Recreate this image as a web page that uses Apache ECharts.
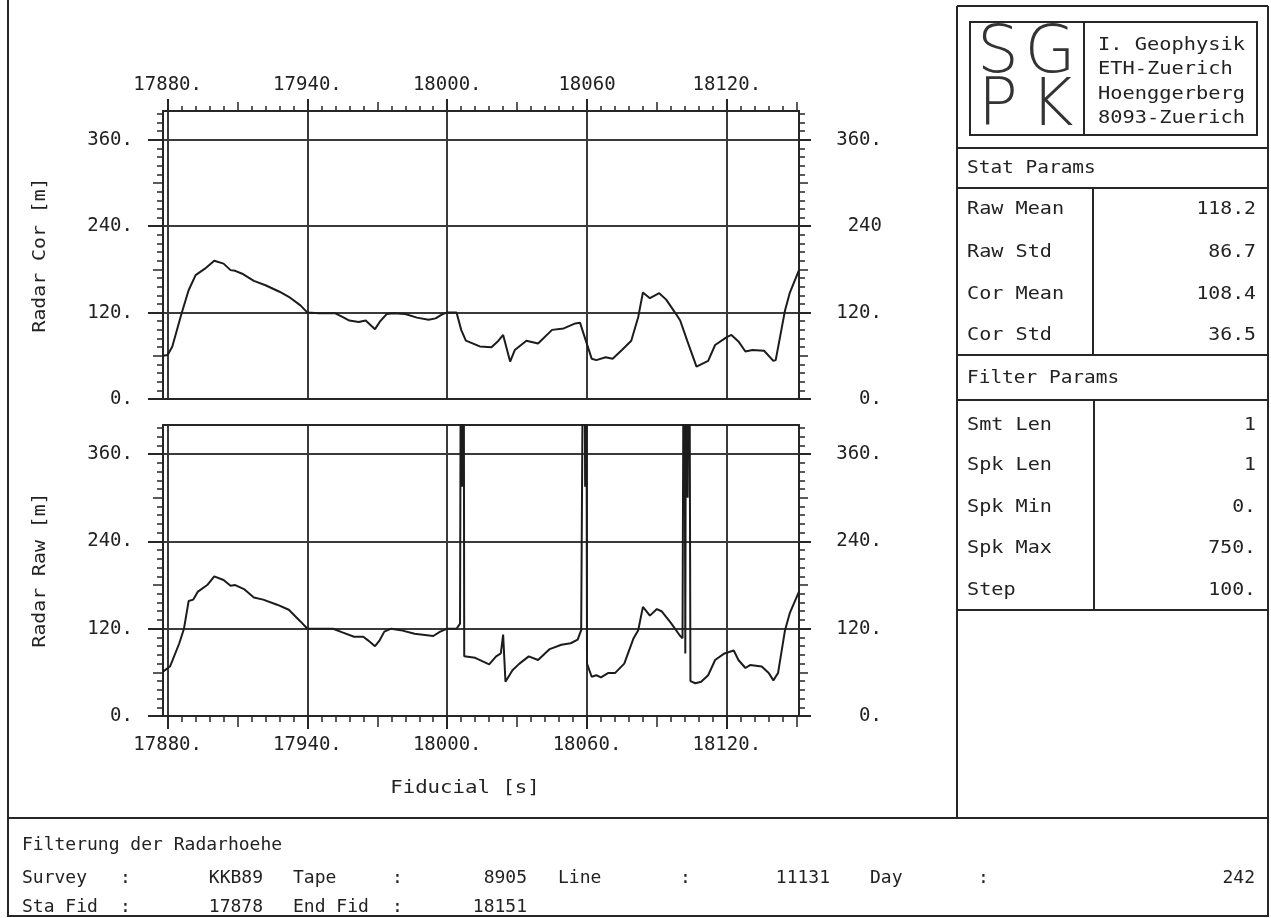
<!DOCTYPE html>
<html><head><meta charset="utf-8">
<script src="https://cdn.jsdelivr.net/npm/echarts@6/dist/echarts.min.js"></script>
<style>html,body{margin:0;padding:0;background:#fff}#c{width:1271px;height:918px}</style>
</head><body><div id="c"></div>
<script>
// ---------------- data ----------------
const fidCor = [17878,17880,17882,17886,17889,17892,17896,17900,17904,17907,17909,17912,17917,17922,17928,17932,17937,17940,17945,17952,17955,17958,17962,17965,17969,17971,17974,17977,17982,17987,17992,17995,17998,18000,18004,18006,18008,18014,18019,18022,18024,18027,18029,18034,18039,18045,18050,18055,18057,18059,18062,18064,18068,18071,18075,18079,18082,18084,18087,18091,18094,18098,18100,18103,18107,18112,18115,18120,18122,18125,18128,18131,18136,18140,18141,18145,18147,18151];
const radarCor = [60,61,73,119,151,172,181,192,188,179,178,174,164,158,149,142,130,120,119,119,114,109,107,109,97,107,118,119,118,113,110,112,118,120,120,96,81,73,72,81,89,52,68,81,77,96,98,105,106,86,56,54,58,56,68,81,114,148,140,147,138,119,109,81,45,53,75,86,89,80,66,68,67,53,54,123,147,179];
const fidRaw = [17878,17881,17885,17887,17889,17891,17893,17897,17900,17904,17907,17909,17913,17917,17921,17927,17932,17937,17940,17951,17955,17960,17964,17966,17969,17971,17973,17976,17980,17986,17994,17997,18000,18004,18005.5,18006,18006.5,18007,18007.3,18008,18012,18018,18021,18023,18024,18025,18028,18031,18035,18039,18044,18049,18053,18056,18057.5,18058.7,18059.2,18059.6,18060,18062,18064,18066,18069,18072,18076,18080,18082,18084,18087,18090,18092,18096,18100,18101,18101.7,18102.2,18102.6,18103.2,18103.8,18104.4,18106.5,18109,18112,18115,18119,18123,18125,18128,18130,18135,18138,18140,18142,18145,18147,18151];
const radarRaw = [61,68,100,120,158,160,171,180,192,187,179,180,174,163,160,153,146,130,120,120,115,109,109,104,96,104,116,120,118,113,110,116,120,120,127,750,315,750,82,82,80,71,82,86,112,47,63,72,82,77,92,98,100,105,118,750,315,750,72,54,56,53,59,59,72,107,118,150,138,147,144,128,110,107,750,86,750,300,750,48,45,47,56,77,86,90,77,66,70,68,59,49,59,118,141,171];

const xMajorTicks = [17880,17940,18000,18060,18120];
const xTopLabels = ['17880.','17940.','18000.','18060','18120.'];
const xBottomLabels = ['17880.','17940.','18000.','18060.','18120.'];
const yMajorTicks = [0,120,240,360];
const yLeftTopLabels = ['0.','120.','240.','360.'];
const yRightTopLabels = ['0.','120.','240','360.'];
const yLeftBotLabels = ['0.','120.','240.','360.'];
const yRightBotLabels = ['0.','120.','240.','360.'];

const statTitle = 'Stat Params';
const statLabels = ['Raw Mean','Raw Std','Cor Mean','Cor Std'];
const statValues = ['118.2','86.7','108.4','36.5'];
const filterTitle = 'Filter Params';
const filterLabels = ['Smt Len','Spk Len','Spk Min','Spk Max','Step'];
const filterValues = ['1','1','0.','750.','100.'];
const instituteLines = ['I. Geophysik','ETH-Zuerich','Hoenggerberg','8093-Zuerich'];
const logoLetters = ['S','G','P','K'];
const infoTitle = 'Filterung der Radarhoehe';
const infoRow1 = ['Survey',':','KKB89','Tape',':','8905','Line',':','11131','Day',':','242'];
const infoRow2 = ['Sta Fid',':','17878','End Fid',':','18151'];

// ---------------- layout / style ----------------
const X_MIN = 17878, X_MAX = 18151, Y_MIN = 0, Y_MAX = 400;
const FONT = 'DejaVu Sans Mono';
const INK = '#262626';
function range(a,b,s,skip){const r=[];for(let v=a;v<=b;v+=s){if(!skip||v%skip!==0)r.push(v);}return r;}
const xMinor = range(17880,18150,6,30);
const xMid = range(17910,18150,60);
const yMinor = range(0,396,12,60);
const yMid = [60,180,300];

function lbl(ticks, labels){return v=>{const i=ticks.indexOf(v);return i>=0?labels[i]:'';};}
function frameAxis(kind,grid,pos){
  return {gridIndex:grid,type:'value',position:pos,min:kind==='x'?X_MIN:Y_MIN,max:kind==='x'?X_MAX:Y_MAX,
    axisLine:{show:true,onZero:false,lineStyle:{color:INK,width:2}},axisTick:{show:false},axisLabel:{show:false},splitLine:{show:false},silent:true};
}
function tickAxis(kind,grid,pos,vals,len){
  return {gridIndex:grid,type:'value',position:pos,min:kind==='x'?X_MIN:Y_MIN,max:kind==='x'?X_MAX:Y_MAX,
    axisLine:{show:false,onZero:false},axisTick:{show:true,length:len,customValues:vals,lineStyle:{color:INK,width:1.5}},
    axisLabel:{show:false},splitLine:{show:false},silent:true};
}
function mainAxis(kind,grid,pos,labels,tickLen,margin,split,align){
  const ticks = kind==='x'?xMajorTicks:yMajorTicks;
  const a = {gridIndex:grid,type:'value',position:pos,min:kind==='x'?X_MIN:Y_MIN,max:kind==='x'?X_MAX:Y_MAX,
    axisLine:{show:true,onZero:false,lineStyle:{color:INK,width:2}},
    axisTick:{show:true,length:tickLen,customValues:ticks,lineStyle:{color:INK,width:2}},
    axisLabel:{show:true,customValues:ticks,margin:margin,formatter:lbl(ticks,labels),fontFamily:FONT,fontSize:19,color:'#222'},
    splitLine:{show:split,lineStyle:{color:'#3a3a3a',width:2}},silent:true};
  if(align) a.axisLabel.align = align;
  return a;
}

const grids = [
  {left:163,top:111,width:636,height:288},
  {left:163,top:425,width:636,height:291}
];
const xAxes = [
  mainAxis('x',0,'top',xTopLabels,12,16,true),     // 0
  tickAxis('x',0,'top',xMinor,5),
  tickAxis('x',0,'top',xMid,9),
  frameAxis('x',0,'bottom'),
  mainAxis('x',1,'bottom',xBottomLabels,13,20,true), // 4
  tickAxis('x',1,'bottom',xMinor,6),
  tickAxis('x',1,'bottom',xMid,11),
  frameAxis('x',1,'top')
];
const yAxes = [
  mainAxis('y',0,'left',yLeftTopLabels,15,30,true),  // 0
  tickAxis('y',0,'left',yMinor,6),
  tickAxis('y',0,'left',yMid,10),
  mainAxis('y',0,'right',yRightTopLabels,12,83,false,'right'),
  tickAxis('y',0,'right',yMinor,6),
  tickAxis('y',0,'right',yMid,9),
  mainAxis('y',1,'left',yLeftBotLabels,15,30,true),  // 6
  tickAxis('y',1,'left',yMinor,6),
  tickAxis('y',1,'left',yMid,10),
  mainAxis('y',1,'right',yRightBotLabels,12,83,false,'right'),
  tickAxis('y',1,'right',yMinor,6),
  tickAxis('y',1,'right',yMid,9)
];

const series = [
  {type:'line',name:'Radar Cor',xAxisIndex:0,yAxisIndex:0,data:fidCor.map((x,i)=>[x,radarCor[i]]),
   showSymbol:false,symbol:'none',clip:true,lineStyle:{color:'#1c1c1c',width:2},animation:false,silent:true},
  {type:'line',name:'Radar Raw',xAxisIndex:4,yAxisIndex:6,data:fidRaw.map((x,i)=>[x,radarRaw[i]]),
   showSymbol:false,symbol:'none',clip:true,lineStyle:{color:'#1c1c1c',width:2},animation:false,silent:true}
];

// ---------------- graphic (frames and side/bottom panels) ----------------
const G = [];
function L(x1,y1,x2,y2,w){G.push({type:'line',silent:true,shape:{x1,y1,x2,y2},style:{stroke:INK,lineWidth:w||2}});}
function T(text,x,y,opt){opt=opt||{};G.push({type:'text',silent:true,x:x,y:y,rotation:opt.rot||0,scaleX:opt.sx||1,
  style:{text:text,fontFamily:opt.font||FONT,fontSize:opt.size||18,fontWeight:opt.weight||'normal',fill:opt.color||'#222',
  textAlign:opt.align||'left',textVerticalAlign:'middle'}});}

// outer frame
L(8,0,8,917);
L(957,6,957,818);
L(957,6,1268,6);
L(1268,6,1268,917);
L(8,818,1268,818);
L(8,916,1268,916);
// logo
G.push({type:'rect',silent:true,shape:{x:970,y:22,width:287,height:113},style:{fill:'none',stroke:INK,lineWidth:2}});
L(1084,22,1084,135);
const logoPos = [[998,55],[1050,55],[998,108],[1052,108]];
logoLetters.forEach((s,i)=>T(s,logoPos[i][0],logoPos[i][1],{font:'DejaVu Sans',size:66,weight:200,align:'center',color:'#333'}));
instituteLines.forEach((s,i)=>T(s,1098,45+i*24.5,{size:18,sx:1.13}));
// stat params
L(957,148,1268,148);
T(statTitle,967,168,{size:18,sx:1.08});
L(957,188,1268,188);
L(1093,188,1093,355);
const statY=[209,252,294,335];
statLabels.forEach((s,i)=>T(s,967,statY[i],{size:18,sx:1.12}));
statValues.forEach((s,i)=>T(s,1256,statY[i],{size:18,align:'right',sx:1.1}));
L(957,355,1268,355);
T(filterTitle,967,378,{size:18,sx:1.08});
L(957,400,1268,400);
L(1094,400,1094,610);
const filtY=[425,465,507,548,590];
filterLabels.forEach((s,i)=>T(s,967,filtY[i],{size:18,sx:1.12}));
filterValues.forEach((s,i)=>T(s,1256,filtY[i],{size:18,align:'right',sx:1.1}));
L(957,610,1268,610);
// axis names
T('Radar Cor [m]',40,255,{size:18,rot:Math.PI/2,align:'center',sx:1.1});
T('Radar Raw [m]',40,570,{size:18,rot:Math.PI/2,align:'center',sx:1.1});
T('Fiducial [s]',465,788,{size:18,align:'center',sx:1.15});
// bottom info box
T(infoTitle,22,845,{size:18});
const row1X=[22,120,263,293,392,527,558,680,830,870,978,1255];
const row1A=['left','left','right','left','left','right','left','left','right','left','left','right'];
infoRow1.forEach((s,i)=>T(s,row1X[i],878,{size:18,align:row1A[i]}));
const row2X=[22,120,263,293,392,527];
const row2A=['left','left','right','left','left','right'];
infoRow2.forEach((s,i)=>T(s,row2X[i],907,{size:18,align:row2A[i]}));

const chart = echarts.init(document.getElementById('c'),null,{renderer:'canvas'});
chart.setOption({
  backgroundColor:'#ffffff',
  animation:false,
  grid:grids,
  xAxis:xAxes,
  yAxis:yAxes,
  series:series,
  graphic:{elements:G}
});
</script></body></html>
